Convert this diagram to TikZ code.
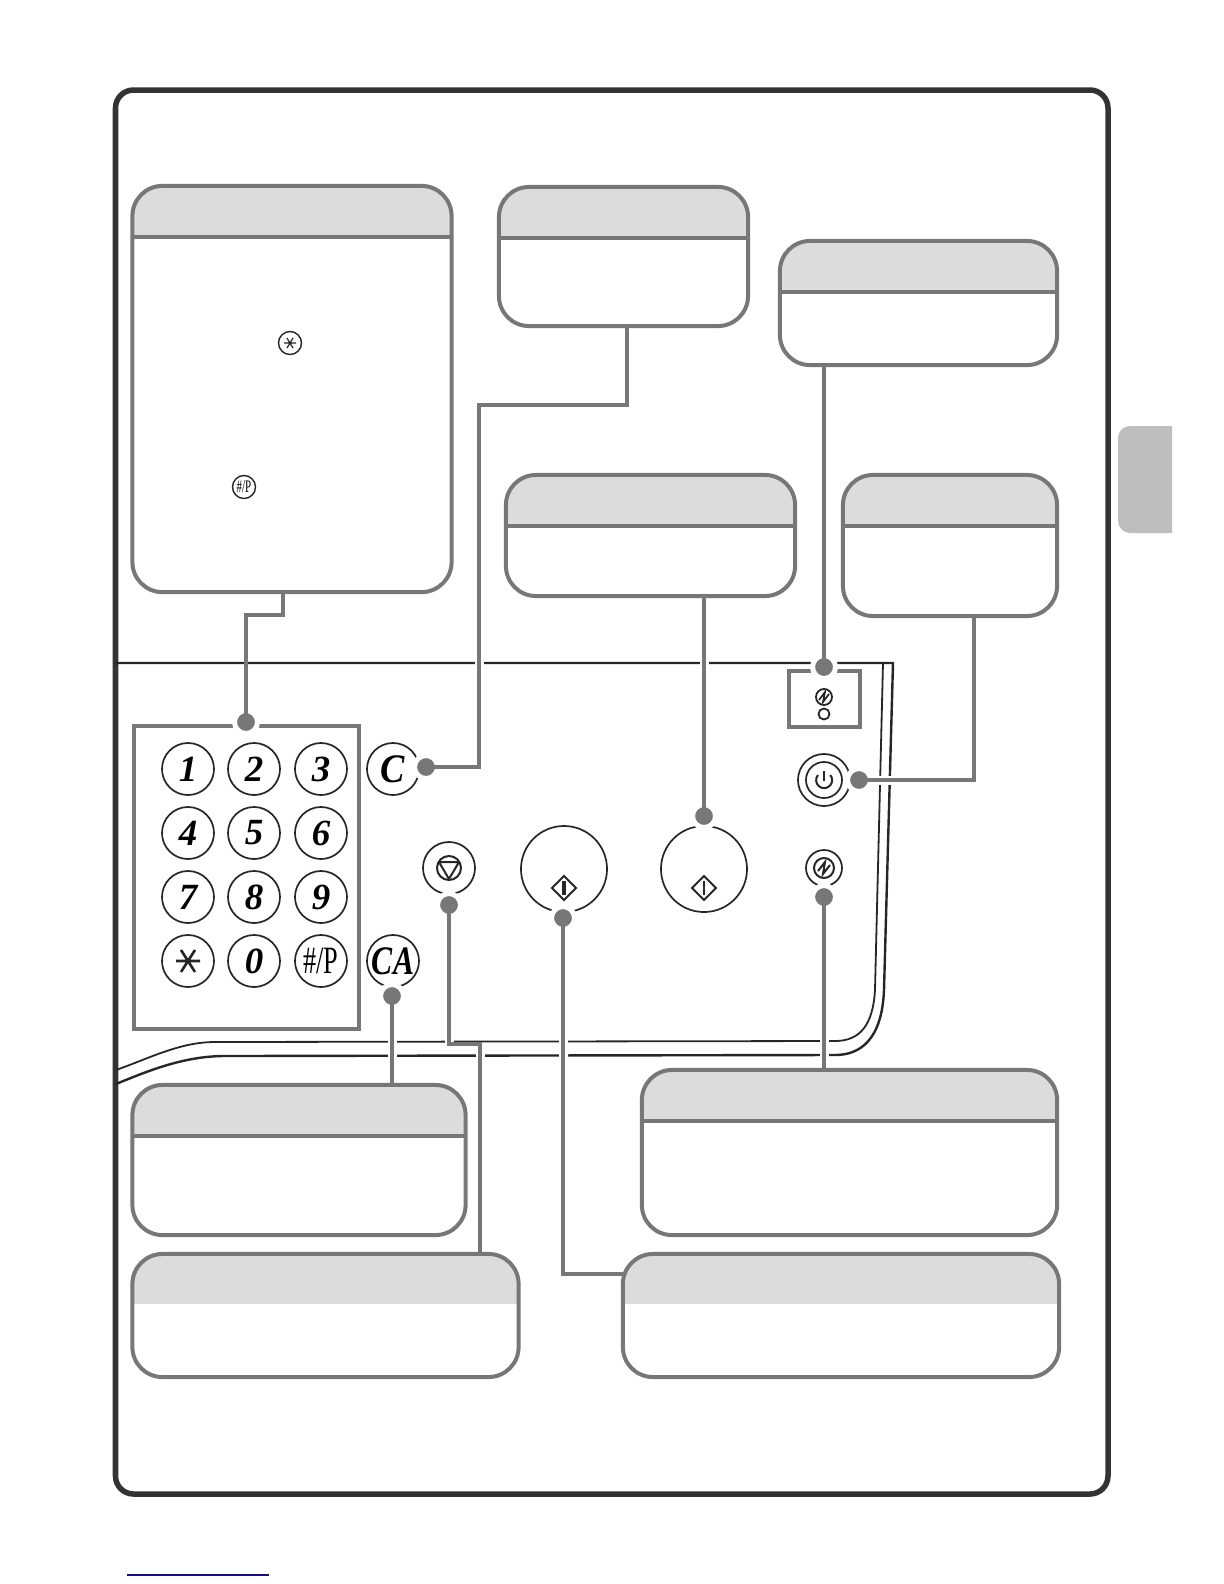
\documentclass[tikz,border=0pt]{standalone}
\usepackage{graphicx}
\usepackage{fontspec}
\setmainfont{Liberation Serif}
\usetikzlibrary{backgrounds}
\definecolor{framegray}{HTML}{333333}
\definecolor{linegray}{HTML}{777777}
\definecolor{headgray}{HTML}{DCDCDC}
\definecolor{tabgray}{HTML}{BEBEBE}
\definecolor{rulenavy}{HTML}{10108A}
\tikzset{
  callout/.style={draw=linegray,line width=.04cm,rounded corners=.3cm,fill=white,inner sep=0,outer sep=0,
    path picture={\fill[headgray,sharp corners] (path picture bounding box.north west) rectangle ([yshift=-.51cm]path picture bounding box.north east);
      \draw[linegray,line width=.04cm,sharp corners] ([yshift=-.51cm]path picture bounding box.north west) -- ([yshift=-.51cm]path picture bounding box.north east);}},
  calloutplain/.style={draw=linegray,line width=.04cm,rounded corners=.3cm,fill=white,inner sep=0,outer sep=0,
    path picture={\fill[headgray,sharp corners] (path picture bounding box.north west) rectangle ([yshift=-.5cm]path picture bounding box.north east);}},
  panelbox/.style={draw=linegray,line width=.035cm,inner sep=0,outer sep=0},
  keycap/.style={circle,draw=black!85,line width=.017cm,minimum size=.52cm,inner sep=0,font=\fontsize{10.5}{12}\selectfont\bfseries\itshape},
  smallcap/.style={circle,draw=black!85,line width=.014cm,inner sep=0},
  calldot/.style={circle,fill=linegray,draw=white,line width=.05cm,minimum size=.23cm,inner sep=0},
  link/.style={draw=linegray,line width=.035cm},
  linkgap/.style={draw=white,line width=.09cm},
  panelline/.style={draw=black!85,line width=.024cm},
  glyph/.style={draw=black!85,line width=.02cm}
}
\begin{document}
\begin{tikzpicture}[x=.01cm,y=-.01cm]
  \useasboundingbox (0,0) rectangle (1224,1584);
  % thumb tab and page rule
  \fill[tabgray] (1172,426) [rounded corners=.12cm] -- (1118,426) -- (1118,533) [sharp corners] -- (1172,533) -- cycle;
  \draw[rulenavy,line width=.012cm] (127,1575) -- (269,1575);
  % callouts
  \node[callout,minimum width=3.19cm,minimum height=4.06cm] (keybox) at (292,389) {};
  \node[callout,minimum width=2.49cm,minimum height=1.39cm] (clearbox) at (623.5,256.5) {};
  \node[callout,minimum width=2.77cm,minimum height=1.24cm] (statusbox) at (918.5,303) {};
  \node[callout,minimum width=2.89cm,minimum height=1.21cm] (colorbox) at (650.5,535.5) {};
  \node[callout,minimum width=2.14cm,minimum height=1.41cm] (powerbox) at (950,545.5) {};
  \node[callout,minimum width=3.33cm,minimum height=1.50cm] (clearallbox) at (299,1160) {};
  \node[callout,minimum width=4.15cm,minimum height=1.65cm] (savebox) at (849.5,1152.5) {};
  \node[calloutplain,minimum width=3.86cm,minimum height=1.23cm] (stopbox) at (325.5,1315.5) {};
  \node[calloutplain,minimum width=4.36cm,minimum height=1.23cm] (blackbox) at (841,1315.5) {};
  % small keys printed in the first callout
  \node[smallcap,minimum size=.23cm] (starhint) at (290,343) {};
  \draw[glyph,line width=.012cm] (284,343) -- (296,343) (287,338) -- (293,348) (293,338) -- (287,348);
  \node[smallcap,minimum size=.23cm] (hashhint) at (244,487) {\fontsize{5}{6}\selectfont\scalebox{.62}[1]{\#/P}};
  % numeric keys
  \node[panelbox,minimum width=2.25cm,minimum height=3.03cm] (keypad) at (246.5,877.5) {};
  \node[keycap] (key1) at (188,769) {1};
  \node[keycap] (key2) at (254,769) {2};
  \node[keycap] (key3) at (321,769) {3};
  \node[keycap] (key4) at (188,833) {4};
  \node[keycap] (key5) at (254,833) {5};
  \node[keycap] (key6) at (321,833) {6};
  \node[keycap] (key7) at (188,897) {7};
  \node[keycap] (key8) at (254,897) {8};
  \node[keycap] (key9) at (321,897) {9};
  \node[keycap] (keystar) at (188,961) {};
  \draw[glyph,line width=.026cm] (176,961) -- (200,961) (181,950) -- (195,972) (195,950) -- (181,972);
  \node[keycap] (key0) at (254,961) {0};
  \node[keycap,font=\fontsize{11}{12}\selectfont] (keyhash) at (321,961) {\scalebox{.68}[1]{\#/P}};
  \node[keycap,font=\fontsize{11.5}{12}\selectfont\itshape] (keyc) at (393,769) {\scalebox{.9}[1]{\bfseries C}};
  \node[keycap,font=\fontsize{11.5}{12}\selectfont\itshape] (keyca) at (393,961) {\scalebox{.78}[1]{\bfseries CA}};
  % stop key
  \node[keycap] (keystop) at (449,868) {};
  \node[smallcap,line width=.02cm,minimum size=.24cm] (stopring) at (449,868) {};
  \draw[glyph,line join=round] (439,862) -- (459,862) -- (449,879) -- cycle;
  % start keys
  \node[keycap,minimum size=.86cm] (startblack) at (564,869) {};
  \draw[glyph] (564,876) -- (576,888) -- (564,900) -- (552,888) -- cycle;
  \draw[glyph,line width=.035cm] (564,881) -- (564,895);
  \node[keycap,minimum size=.86cm] (startcolor) at (704,869) {};
  \draw[glyph] (704,876) -- (716,888) -- (704,900) -- (692,888) -- cycle;
  \draw[glyph] (704,881) -- (704,895);
  % lamp window
  \node[panelbox,minimum width=.71cm,minimum height=.56cm] (lampbox) at (824.5,699) {};
  \node[smallcap,line width=.018cm,minimum size=.16cm] (lampsign) at (824,697) {};
  \draw[glyph,line width=.017cm] (819,700) -- (825,692) -- (823,702) -- (829,694);
  \node[smallcap,line width=.018cm,minimum size=.11cm] (lamp) at (824,714) {};
  % power key
  \node[keycap] (keypower) at (824,780) {};
  \node[smallcap,line width=.017cm,minimum size=.36cm] (powerring) at (824,780) {};
  \draw[glyph] (818,775) arc (-140:-400:8);
  \draw[glyph] (824,771) -- (824,781);
  % energy save key
  \node[smallcap,line width=.017cm,minimum size=.36cm] (keysave) at (824,868) {};
  \node[smallcap,line width=.02cm,minimum size=.2cm] (savering) at (824,868) {};
  \draw[glyph] (818,871) -- (825,862) -- (823,874) -- (830,865);
  % call-out dots
  \node[calldot] (keydot) at (246,722) {};
  \node[calldot] (cleardot) at (426,767) {};
  \node[calldot] (clearalldot) at (392,996) {};
  \node[calldot] (stopdot) at (449,905) {};
  \node[calldot] (blackdot) at (563,918) {};
  \node[calldot] (colordot) at (704,816) {};
  \node[calldot] (lampdot) at (824,667) {};
  \node[calldot] (powerdot) at (859,780) {};
  \node[calldot] (savedot) at (824,897) {};
  \coordinate (keytap) at (283,592);
  \coordinate (cleartap) at (627,326);
  \coordinate (powertap) at (974,616);
  \coordinate (stopbend) at (449,1044);
  \coordinate (stoptop) at (480,1044);
  % connectors
  \draw[link] (keytap) -- ++(0,23) -| (keydot.center);
  \draw[link] (cleartap) -- ++(0,79) -| (479,767) -- (cleardot.center);
  \draw[link] (clearalldot.center) -- (clearalldot |- clearallbox.north);
  \draw[link] (stopdot.center) -- (stopbend) -- (stoptop) -- (stoptop |- stopbox.north);
  \draw[link] (blackdot.center) |- (blackbox.west |- 0,1274);
  \draw[link] (colordot.center) -- (colordot |- colorbox.south);
  \draw[link] (lampdot.center) -- (lampdot |- statusbox.south);
  \draw[link] (powertap) |- (powerdot.center);
  \draw[link] (savedot.center) -- (savedot |- savebox.north);
  \begin{scope}[on background layer]
    \draw[framegray,line width=.055cm,rounded corners=.18cm] (115.5,90) rectangle (1108,1494);
    % machine panel outline
    \draw[panelline] (116,663) -- (893,663) -- (884,990) .. controls (882,1040) and (860,1055) .. (835,1055)
      -- (225,1056) .. controls (185,1056) and (150,1070) .. (116,1084);
    \draw[panelline,line width=.018cm] (883,663) -- (875,990) .. controls (873,1025) and (860,1041) .. (835,1041)
      -- (215,1042) .. controls (180,1042) and (150,1058) .. (116,1070);
    % breaks where connectors cross the outline
    \draw[linkgap] (479,657) -- (479,669);
    \draw[linkgap] (704,657) -- (704,669);
    \draw[linkgap] (392,1036) -- (392,1061);
    \draw[linkgap] (449,1036) -- (449,1044);
    \draw[linkgap] (480,1048) -- (480,1061);
    \draw[linkgap] (563,1036) -- (563,1061);
    \draw[linkgap] (824,1036) -- (824,1061);
    \draw[linkgap] (870,780) -- (900,780);
  \end{scope}
\end{tikzpicture}
\end{document}
